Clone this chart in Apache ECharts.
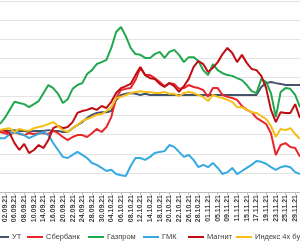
<!DOCTYPE html>
<html>
<head>
<meta charset="utf-8">
<script src="https://cdn.jsdelivr.net/npm/echarts/dist/echarts.min.js"></script>
<style>
  html, body { margin: 0; padding: 0; background: #fff; }
  #chart { width: 300px; height: 250px; }
</style>
</head>
<body>
<div id="chart"></div>
<script>
const dates = [
  "01.09.21", "02.09.21", "03.09.21", "06.09.21", "07.09.21", "08.09.21", "09.09.21", "10.09.21",
  "13.09.21", "14.09.21", "15.09.21", "16.09.21", "17.09.21", "20.09.21", "21.09.21", "22.09.21",
  "23.09.21", "24.09.21", "27.09.21", "28.09.21", "29.09.21", "30.09.21",
  "01.10.21", "04.10.21", "05.10.21", "06.10.21", "07.10.21", "08.10.21", "11.10.21", "12.10.21",
  "13.10.21", "14.10.21", "15.10.21", "18.10.21", "19.10.21", "20.10.21", "21.10.21", "22.10.21",
  "25.10.21", "26.10.21", "27.10.21", "28.10.21", "29.10.21",
  "01.11.21", "03.11.21", "05.11.21", "08.11.21", "09.11.21", "10.11.21", "11.11.21", "12.11.21",
  "15.11.21", "16.11.21", "17.11.21", "18.11.21", "19.11.21", "22.11.21", "23.11.21", "24.11.21",
  "25.11.21", "26.11.21", "29.11.21", "30.11.21"
];

const ut = [
  96.2, 96.2, 96.0, 96.2, 96.0, 96.0, 95.7, 96.0, 96.0, 96.0, 96.2, 96.0, 96.0, 95.7, 95.7,
  96.7, 97.5, 98.3, 99.4, 100.2, 100.7, 100.9, 100.9, 101.2, 104.1, 105.4, 105.7, 105.9, 105.7, 105.4,
  105.7, 105.4, 105.4, 105.4, 105.4, 105.4, 105.4, 105.4, 105.4, 105.4, 105.4, 105.4, 105.4, 105.4, 105.4,
  105.4, 105.4, 105.4, 105.4, 105.4, 105.4, 105.4, 105.4, 105.4, 107.5, 108.5, 108.8, 108.5, 108.3,
  108.0, 108.0, 108.0, 108.0
];
const sber = [
  95.7, 95.4, 94.9, 95.7, 95.2, 94.9, 95.4, 95.2, 95.4, 95.4, 95.2, 96.0, 95.4, 94.4, 93.6,
  94.4, 94.9, 94.9, 94.4, 95.4, 96.5, 95.7, 97.0, 99.6, 104.6, 106.7, 107.0, 107.2, 109.3, 112.5,
  110.6, 110.6, 109.8, 108.8, 107.7, 108.5, 108.3, 107.0, 107.2, 108.0, 107.5, 107.2, 106.7, 104.9, 107.2,
  107.2, 105.4, 104.9, 104.6, 104.1, 102.5, 101.5, 100.9, 99.4, 98.6, 97.8, 95.4, 89.7, 92.3,
  92.8, 91.8, 91.5, 89.2
];
const gazprom = [
  97.8, 99.4, 101.5, 103.6, 103.3, 103.0, 102.2, 103.0, 103.8, 105.9, 108.0, 107.2, 105.7, 103.3, 104.3,
  107.0, 108.0, 108.5, 110.9, 111.9, 113.5, 114.0, 114.6, 117.7, 121.9, 123.2, 120.8, 117.7, 116.1, 115.9,
  115.1, 115.1, 116.1, 116.7, 115.1, 116.7, 117.2, 115.9, 114.0, 115.3, 115.3, 114.3, 111.9, 110.6, 113.5,
  111.9, 111.1, 110.6, 110.4, 109.8, 109.3, 108.0, 106.4, 105.9, 109.6, 108.8, 105.9, 99.6, 106.2,
  107.2, 107.0, 105.4, 102.2
];
const gmk = [
  94.1, 94.1, 95.2, 95.7, 95.4, 94.9, 94.1, 94.7, 95.2, 95.7, 94.9, 92.8, 91.0, 89.2, 88.9,
  89.7, 90.5, 89.7, 88.9, 87.6, 87.1, 86.3, 85.5, 85.8, 84.7, 84.4, 84.2, 86.8, 88.9, 88.9,
  88.4, 89.2, 90.2, 90.5, 90.7, 92.3, 91.8, 90.5, 89.2, 89.7, 88.4, 86.5, 87.1, 86.5, 87.6,
  86.3, 84.7, 85.2, 86.3, 84.7, 85.5, 86.3, 87.1, 88.1, 87.9, 87.4, 86.5, 85.8, 86.5,
  86.8, 86.5, 85.2, 84.7
];
const magnit = [
  96.2, 96.0, 95.4, 92.8, 91.0, 92.6, 90.2, 91.0, 92.3, 91.5, 93.6, 96.7, 97.3, 96.7, 97.0,
  98.3, 100.7, 101.2, 101.5, 102.0, 101.5, 102.5, 102.0, 103.6, 105.9, 107.2, 107.7, 108.3, 110.6, 112.7,
  110.6, 109.8, 109.6, 108.3, 107.5, 108.5, 107.7, 106.2, 107.7, 109.6, 112.7, 114.3, 113.5, 111.4, 112.5,
  114.0, 116.1, 117.7, 116.4, 114.0, 115.9, 113.8, 112.2, 111.9, 110.4, 107.2, 101.5, 98.3, 100.9,
  100.7, 100.7, 103.0, 99.4
];
const index4 = [
  96.2, 96.5, 96.7, 95.7, 96.5, 96.2, 96.0, 96.7, 97.0, 97.3, 97.8, 98.3, 97.3, 96.2, 95.7,
  96.7, 97.5, 98.6, 99.1, 99.6, 100.2, 100.4, 101.2, 102.2, 104.6, 104.9, 105.4, 105.9, 106.2, 106.4,
  106.2, 106.2, 105.9, 105.9, 106.2, 105.7, 105.7, 105.1, 105.9, 106.2, 105.9, 105.4, 104.9, 103.8, 105.4,
  104.9, 104.6, 104.1, 103.6, 102.2, 102.2, 101.5, 100.9, 100.7, 99.9, 99.1, 97.3, 94.4, 96.5,
  96.2, 96.7, 95.2, 93.9
];

const names = ["УТ", "Сбербанк", "Газпром", "ГМК", "Магнит", "Индекс 4х бумаг"];
const colors = ["#44546a", "#e8262b", "#21a84f", "#35a9e1", "#c00c12", "#f5bf17"];
const values = [ut, sber, gazprom, gmk, magnit, index4];
// left edge of each legend entry (line icon)
const legendLeft = [-7, 27, 88, 143, 188, 236];

const chart = echarts.init(document.getElementById("chart"));
chart.setOption({
  animation: false,
  color: colors,
  grid: { left: -2.2, right: -0.3, top: 1, bottom: 58 },
  legend: names.map((n, k) => ({
    data: [n],
    left: legendLeft[k],
    top: 233,
    padding: 0,
    itemWidth: 16,
    itemHeight: 2,
    icon: "rect",
    textStyle: { fontSize: 7.5, color: "#404040", fontFamily: "Liberation Sans", padding: [0, 0, 0, -2] }
  })),
  xAxis: {
    type: "category",
    boundaryGap: false,
    data: dates,
    axisLine: { lineStyle: { color: "#bfbfbf" } },
    axisTick: { show: true, interval: (i) => i % 2 === 1, length: 3, lineStyle: { color: "#bfbfbf" } },
    axisLabel: {
      interval: (i) => i % 2 === 1,
      rotate: 90,
      fontSize: 7,
      fontWeight: "bold",
      color: "#404040",
      fontFamily: "Liberation Sans",
      margin: 3
    }
  },
  yAxis: {
    type: "value",
    min: 80,
    max: 130,
    interval: 5,
    axisLabel: { show: false },
    axisLine: { show: false },
    axisTick: { show: false },
    splitLine: { lineStyle: { color: "#e3e3e3" } }
  },
  series: values.map((d, k) => ({
    name: names[k],
    type: "line",
    data: d,
    symbol: "none",
    lineStyle: { width: 2 }
  }))
});
</script>
</body>
</html>
